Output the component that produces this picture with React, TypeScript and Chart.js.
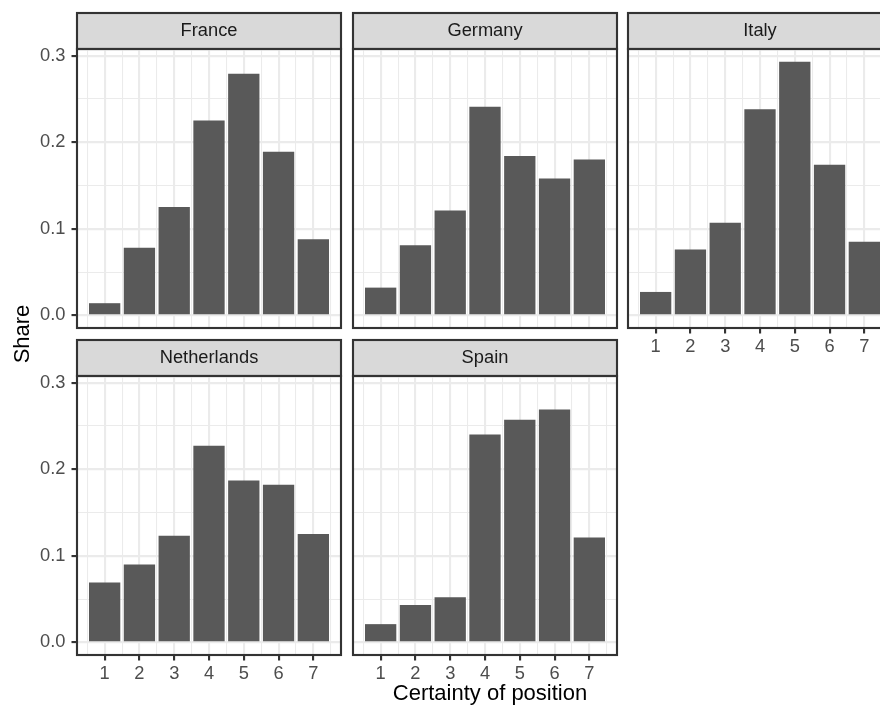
import React, { useEffect, useRef } from "react";
import { Chart, registerables } from "chart.js";

Chart.register(...registerables);
Chart.defaults.font.family = "'Liberation Sans', Arial, Helvetica, sans-serif";

// ---- data ----
const CERTAINTY = [1, 2, 3, 4, 5, 6, 7];
const FRANCE = [0.014, 0.078, 0.125, 0.225, 0.279, 0.189, 0.088];
const GERMANY = [0.032, 0.081, 0.121, 0.241, 0.184, 0.158, 0.18];
const ITALY = [0.027, 0.076, 0.107, 0.238, 0.293, 0.174, 0.085];
const NETHERLANDS = [0.069, 0.09, 0.123, 0.227, 0.187, 0.182, 0.125];
const SPAIN = [0.021, 0.043, 0.052, 0.24, 0.257, 0.269, 0.121];
const Y_TICKS = [0, 0.1, 0.2, 0.3];
const COUNTRIES = ["France", "Germany", "Italy", "Netherlands", "Spain"];
const SERIES = [FRANCE, GERMANY, ITALY, NETHERLANDS, SPAIN];
const X_TITLE = "Certainty of position";
const Y_TITLE = "Share";

// ---- layout / style ----
const PANEL_W = 264;
const PANEL_H = 279;
const STRIP_H = 36;
const YW = 70;
const XH = 40;
const PAD = 2;
const COL_LEFT = [77, 353, 628];
const ROW_STRIP_TOP = [13, 340];
const NCOL = 3;
const BAR = "#595959";
const GRID = "#EBEBEB";
const DARK = "#333333";
const TICK_TXT = "#4D4D4D";
const MAJOR_W = 2.13;
const MINOR_W = 1.07;
const TXT_SIZE = 18.3;
const FONT = "'Liberation Sans', Arial, Helvetica, sans-serif";

// scale ranges (ggplot style expansion)
const allVals = SERIES.flat();
const yTop = Math.max(...allVals);
const Y_MIN = -0.05 * yTop;
const Y_MAX = 1.05 * yTop;
const xLo = Math.min(...CERTAINTY) - 0.45;
const xHi = Math.max(...CERTAINTY) + 0.45;
const X_MIN = xLo - 0.05 * (xHi - xLo);
const X_MAX = xHi + 0.05 * (xHi - xLo);

// major + minor (half-step) grid positions
const X_ALL: number[] = [];
for (let v = Math.ceil(X_MIN * 2) / 2; v <= X_MAX + 1e-9; v += 0.5) X_ALL.push(v);
const Y_ALL: number[] = [];
const yStep = Y_TICKS[1] - Y_TICKS[0];
for (let v = Y_TICKS[0] - yStep; v <= Y_TICKS[Y_TICKS.length - 1] + yStep + 1e-9; v += yStep / 2) {
  if (v >= Y_MIN && v <= Y_MAX) Y_ALL.push(Math.round(v * 1000) / 1000);
}
const isMajorX = (v: number) => CERTAINTY.some((t) => Math.abs(t - v) < 1e-9);
const isMajorY = (v: number) => Y_TICKS.some((t) => Math.abs(t - v) < 1e-9);

const decor = {
  id: "decor",
  beforeDraw(chart: any) {
    const { ctx, chartArea: a } = chart;
    ctx.save();
    ctx.fillStyle = "#D9D9D9";
    ctx.fillRect(a.left, a.top - STRIP_H, a.right - a.left, STRIP_H);
    ctx.strokeStyle = DARK;
    ctx.lineWidth = MAJOR_W;
    ctx.strokeRect(a.left, a.top - STRIP_H, a.right - a.left, STRIP_H);
    ctx.restore();
  },
  afterDraw(chart: any) {
    const { ctx, chartArea: a } = chart;
    ctx.save();
    ctx.strokeStyle = DARK;
    ctx.lineWidth = MAJOR_W;
    ctx.strokeRect(a.left, a.top, a.right - a.left, a.bottom - a.top);
    ctx.restore();
  },
};

function Panel({ index }: { index: number }) {
  const ref = useRef<HTMLCanvasElement>(null);
  const col = index % NCOL;
  const row = Math.floor(index / NCOL);
  const showY = col === 0;
  const showX = row === 1 || index + NCOL >= SERIES.length;
  const left = COL_LEFT[col] - YW;
  const top = ROW_STRIP_TOP[row] - PAD;
  const width = YW + PANEL_W + PAD;
  const height = PAD + STRIP_H + PANEL_H + XH;

  useEffect(() => {
    const values = SERIES[index];
    const chart = new Chart(ref.current!, {
      type: "bar",
      data: {
        datasets: [
          {
            data: CERTAINTY.map((x, i) => ({ x, y: values[i] })),
            backgroundColor: BAR,
            borderWidth: 0,
            // minor ticks halve the sample spacing: 0.9 of a unit = 1.8 of a half-unit
            barPercentage: 1.8,
            categoryPercentage: 1,
          },
        ],
      },
      plugins: [decor],
      options: {
        responsive: false,
        maintainAspectRatio: false,
        animation: false,
        layout: { padding: { top: PAD, right: PAD, left: 0, bottom: 0 } },
        plugins: {
          legend: { display: false },
          tooltip: { enabled: false },
          title: {
            display: true,
            text: COUNTRIES[index],
            fullSize: false,
            color: "#1A1A1A",
            font: { family: FONT, size: TXT_SIZE, weight: "normal", lineHeight: 1.2 },
            padding: { top: (STRIP_H - TXT_SIZE * 1.2) / 2, bottom: (STRIP_H - TXT_SIZE * 1.2) / 2 },
          },
        },
        scales: {
          x: {
            type: "linear",
            min: X_MIN,
            max: X_MAX,
            offset: false,
            afterBuildTicks: (s: any) => {
              s.ticks = X_ALL.map((v) => ({ value: v }));
            },
            afterFit: (s: any) => {
              s.height = XH;
            },
            border: { display: false },
            grid: {
              offset: false,
              color: GRID,
              lineWidth: (c: any) => (isMajorX(c.tick.value) ? MAJOR_W : MINOR_W),
              drawTicks: true,
              tickLength: 5.5,
              tickWidth: MAJOR_W,
              tickColor: (c: any) => (showX && isMajorX(c.tick.value) ? DARK : "rgba(0,0,0,0)"),
            },
            ticks: {
              autoSkip: false,
              maxRotation: 0,
              minRotation: 0,
              padding: 2.5,
              color: TICK_TXT,
              font: { family: FONT, size: TXT_SIZE },
              callback: (v: any) => (showX && isMajorX(Number(v)) ? String(Math.round(Number(v))) : ""),
            },
          },
          y: {
            type: "linear",
            min: Y_MIN,
            max: Y_MAX,
            afterBuildTicks: (s: any) => {
              s.ticks = Y_ALL.map((v) => ({ value: v }));
            },
            afterFit: (s: any) => {
              s.width = YW;
            },
            border: { display: false },
            grid: {
              color: GRID,
              lineWidth: (c: any) => (isMajorY(c.tick.value) ? MAJOR_W : MINOR_W),
              drawTicks: true,
              tickLength: 5.5,
              tickWidth: MAJOR_W,
              tickColor: (c: any) => (showY && isMajorY(c.tick.value) ? DARK : "rgba(0,0,0,0)"),
            },
            ticks: {
              autoSkip: false,
              padding: 6,
              color: TICK_TXT,
              font: { family: FONT, size: TXT_SIZE },
              callback: (v: any) => (showY && isMajorY(Number(v)) ? Number(v).toFixed(1) : ""),
            },
          },
        },
      } as any,
    });
    return () => chart.destroy();
  }, []);

  return (
    <canvas
      ref={ref}
      width={width}
      height={height}
      style={{ position: "absolute", left, top, width, height }}
    />
  );
}

export default function App() {
  return (
    <div
      style={{
        position: "fixed",
        left: 0,
        top: 0,
        width: 880,
        height: 713,
        overflow: "hidden",
        background: "#FFFFFF",
        fontFamily: FONT,
      }}
    >
      {SERIES.map((_, i) => (
        <Panel key={COUNTRIES[i]} index={i} />
      ))}
      <div
        style={{
          position: "absolute",
          left: 490,
          top: 682,
          transform: "translateX(-50%)",
          whiteSpace: "nowrap",
          fontSize: 22,
          lineHeight: "22px",
          color: "#000000",
        }}
      >
        {X_TITLE}
      </div>
      <div
        style={{
          position: "absolute",
          left: 22.4 - 50,
          top: 334 - 11,
          width: 100,
          height: 22,
          textAlign: "center",
          transform: "rotate(-90deg)",
          whiteSpace: "nowrap",
          fontSize: 22,
          lineHeight: "22px",
          color: "#000000",
        }}
      >
        {Y_TITLE}
      </div>
    </div>
  );
}
